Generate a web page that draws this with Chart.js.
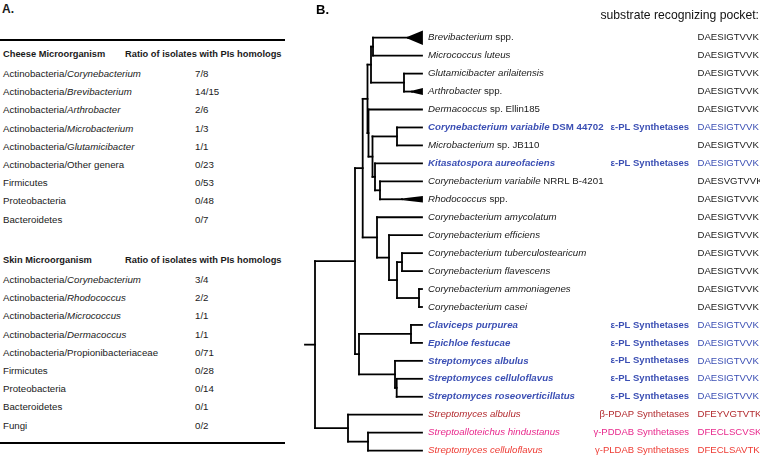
<!DOCTYPE html>
<html><head><meta charset="utf-8">
<script src="https://cdn.jsdelivr.net/npm/chart.js@4/dist/chart.umd.min.js"></script>
<style>
html,body{margin:0;padding:0;background:#fff;width:760px;height:456px;overflow:hidden;font-family:"Liberation Sans",Arial,Helvetica,sans-serif;}
#panelA{position:absolute;left:0;top:0;width:300px;height:456px;}
.t{position:absolute;font-size:9.7px;line-height:12px;white-space:nowrap;color:#1a1a1a;}
.b{font-weight:bold;font-size:9.3px;}
.rule{position:absolute;left:0;width:285px;height:2px;background:#000;}
#wrap{position:absolute;left:300px;top:0;width:460px;height:456px;}
</style></head><body>
<div id="panelA"></div>
<div id="wrap"><canvas id="c" width="460" height="456"></canvas></div>
<script>
// ---------- Panel A data ----------
const cheeseGroups = ['Actinobacteria/','Actinobacteria/','Actinobacteria/','Actinobacteria/','Actinobacteria/','Actinobacteria/Other genera','Firmicutes','Proteobacteria','Bacteroidetes'];
const cheeseGenera = ['Corynebacterium','Brevibacterium','Arthrobacter','Microbacterium','Glutamicibacter','','','',''];
const cheeseRatios = ['7/8','14/15','2/6','1/3','1/1','0/23','0/53','0/48','0/7'];
const skinGroups = ['Actinobacteria/','Actinobacteria/','Actinobacteria/','Actinobacteria/','Actinobacteria/Propionibacteriaceae','Firmicutes','Proteobacteria','Bacteroidetes','Fungi'];
const skinGenera = ['Corynebacterium','Rhodococcus','Micrococcus','Dermacoccus','','','','',''];
const skinRatios = ['3/4','2/2','1/1','1/1','0/71','0/28','0/14','0/1','0/2'];
const ratioHeader = 'Ratio of isolates with PIs homologs';

// ---------- Panel B data ----------
const leafItalic = ['Brevibacterium','Micrococcus luteus','Glutamicibacter arilaitensis','Arthrobacter','Dermacoccus','Corynebacterium variabile','Microbacterium','Kitasatospora aureofaciens','Corynebacterium variabile','Rhodococcus','Corynebacterium amycolatum','Corynebacterium efficiens','Corynebacterium tuberculostearicum','Corynebacterium flavescens','Corynebacterium ammoniagenes','Corynebacterium casei','Claviceps purpurea','Epichloe festucae','Streptomyces albulus','Streptomyces celluloflavus','Streptomyces roseoverticillatus','Streptomyces albulus','Streptoalloteichus hindustanus','Streptomyces celluloflavus'];
const leafRoman = [' spp.','','',' spp.',' sp. Ellin185',' DSM 44702',' sp. JB110','',' NRRL B-4201',' spp.','','','','','','','','','','','','','',''];
const leafGroup = [0,0,0,0,0,1,0,1,0,0,0,0,0,0,0,0,1,1,1,1,1,2,3,4];
const synthetaseLabels = ['','ε-PL Synthetases','β-PDAP Synthetases','γ-PDDAB Synthetases','γ-PLDAB Synthetases'];
const pocketSeqs = ['DAESIGTVVK','DAESIGTVVK','DAESIGTVVK','DAESIGTVVK','DAESIGTVVK','DAESIGTVVK','DAESIGTVVK','DAESIGTVVK','DAESVGTVVK','DAESIGTVVK','DAESIGTVVK','DAESIGTVVK','DAESIGTVVK','DAESIGTVVK','DAESIGTVVK','DAESIGTVVK','DAESIGTVVK','DAESIGTVVK','DAESIGTVVK','DAESIGTVVK','DAESIGTVVK','DFEYVGTVTK','DFECLSCVSK','DFECLSAVTK'];
const leafParents = ['BM','BM','GA','GA','c3','c1','c1','k2','k1','k1','B','b2','TF','TF','AC','AC','CE','CE','ST','SR','SR','R','R2','R2'];
const leafDepth = [0.107,0.107,0.107,0.107,0.107,0.107,0.107,0.107,0.107,0.107,0.107,0.107,0.107,0.107,0.107,0.107,0.107,0.107,0.107,0.107,0.107,0.107,0.107,0.107];
const nodeIds     = ['root','N1','R','R2','N2','S','CE','ST','SR','A','a1','BM','GA','c3','c2','c1','k2','k1','B','b2','b3','TF','AC'];
const nodeParents = [null,'root','root','R','N1','N1','S','S','ST','N2','A','a1','a1','A','c3','c2','c2','k2','N2','B','b2','b3','b3'];
const nodeDepths  = [0,0.040,0.033,0.053,0.0477,0.044,0.096,0.080,0.0817,0.0525,0.056,0.058,0.089,0.0535,0.0575,0.082,0.060,0.065,0.062,0.074,0.082,0.087,0.104];
const rootStubDepth = -0.010;
const collapsedLeaf = [0,3,9];
const collapsedStart = [0.093,0.097,0.087];
const collapsedHalf = [0.33,0.13,0.12];

// ---------- Panel A build ----------
const pa = document.getElementById('panelA');
function addText(x, cy, html, cls){const d=document.createElement('div');d.className='t '+(cls||'');d.style.left=x+'px';d.style.top=(cy-6)+'px';d.innerHTML=html;pa.appendChild(d);}
function addRule(y){const d=document.createElement('div');d.className='rule';d.style.top=y+'px';pa.appendChild(d);}
const hA=document.createElement('div');hA.className='t';hA.style.cssText='left:2px;top:2px;font-size:12px;line-height:14px;font-weight:bold;';hA.textContent='A.';pa.appendChild(hA);
addRule(39);
function block(title, hy, groups, genera, ratios, ry){
  addText(3, hy, title, 'b'); addText(125, hy, ratioHeader, 'b');
  groups.forEach((g,i)=>{const cy=ry+i*18.2; addText(3, cy, g+(genera[i]?'<i>'+genera[i]+'</i>':'')); addText(195, cy, ratios[i]);});
}
block('Cheese Microorganism', 54, cheeseGroups, cheeseGenera, cheeseRatios, 74);
block('Skin Microorganism', 260, skinGroups, skinGenera, skinRatios, 280);
addRule(442);

// ---------- Panel B tree ----------
const groupColors = ['#1a1a1a','#3b4fb4','#b22a2e','#e8288c','#ee3b33'];
const depth = {}, parent = {}, children = {};
nodeIds.forEach((id,i)=>{depth[id]=nodeDepths[i]; parent[id]=nodeParents[i]; children[id]=[];});
leafItalic.forEach((n,i)=>{const id='L'+i; depth[id]=leafDepth[i]; parent[id]=leafParents[i]; children[id]=null;});
Object.keys(parent).forEach(id=>{if(parent[id]) children[parent[id]].push(id);});
const yMemo={};
function yOf(id){ if(yMemo[id]!==undefined) return yMemo[id]; let v; if(children[id]===null) v=+id.slice(1); else {const ys=children[id].map(yOf); v=(Math.min(...ys)+Math.max(...ys))/2;} yMemo[id]=v; return v; }
const datasets=[];
function seg(pts, fill){datasets.push({data:pts,borderColor:'#000',backgroundColor:'#000',borderWidth:1.8,pointRadius:0,fill:fill?'shape':false,borderCapStyle:'square',tension:0});}
Object.keys(parent).forEach(id=>{
  const y=yOf(id);
  if(parent[id]){
    let end=depth[id];
    if(children[id]===null){const k=collapsedLeaf.indexOf(+id.slice(1)); if(k>=0){end=collapsedStart[k]; const h=collapsedHalf[k];
      seg([{x:end,y:y},{x:depth[id],y:y-h},{x:depth[id],y:y+h},{x:end,y:y}], true);} }
    seg([{x:depth[parent[id]],y:y},{x:end,y:y}]);
  } else {
    seg([{x:rootStubDepth,y:y},{x:depth[id],y:y}]);
  }
  if(children[id]){const ys=children[id].map(yOf); seg([{x:depth[id],y:Math.min(...ys)},{x:depth[id],y:Math.max(...ys)}]);}
});

const FONT='"Liberation Sans", Arial, Helvetica, sans-serif';
const labelPlugin={id:'labels',afterDatasetsDraw(chart){
  const c=chart.ctx, sx=chart.scales.x, sy=chart.scales.y;
  c.save(); c.textBaseline='middle';
  c.fillStyle='#000'; c.font='bold 13px '+FONT; c.textAlign='left'; c.fillText('B.',16,10);
  c.fillStyle='#111'; c.font='12.2px '+FONT; c.textAlign='right'; c.fillText('substrate recognizing pocket:',459,16);
  leafItalic.forEach((nm,i)=>{
    const g=leafGroup[i], bold=g===1, y=sy.getPixelForValue(i);
    let x=sx.getPixelForValue(leafDepth[i])+6;
    c.fillStyle=groupColors[g]; c.textAlign='left';
    c.font=(bold?'bold ':'')+'italic 9.7px '+FONT; c.fillText(nm,x,y); x+=c.measureText(nm).width;
    if(leafRoman[i]){c.font=(bold?'bold ':'')+'9.7px '+FONT; c.fillText(leafRoman[i],x,y);}
    if(g){c.font=(bold?'bold ':'')+'9.5px '+FONT; c.textAlign='right'; c.fillText(synthetaseLabels[g],389,y);}
    c.font='9.6px '+FONT; c.textAlign='left'; c.fillText(pocketSeqs[i],397.5,y);
  });
  c.restore();
}};
new Chart(document.getElementById('c').getContext('2d'),{
  type:'line',
  data:{datasets},
  options:{responsive:false,animation:false,devicePixelRatio:1,layout:{padding:0},
    plugins:{legend:{display:false},tooltip:{enabled:false}},
    scales:{x:{type:'linear',display:false,min:-0.015,max:0.445},y:{type:'linear',display:false,min:-2.1,max:23.3,reverse:true}},
    elements:{point:{radius:0}}},
  plugins:[labelPlugin]
});
</script>
</body></html>
